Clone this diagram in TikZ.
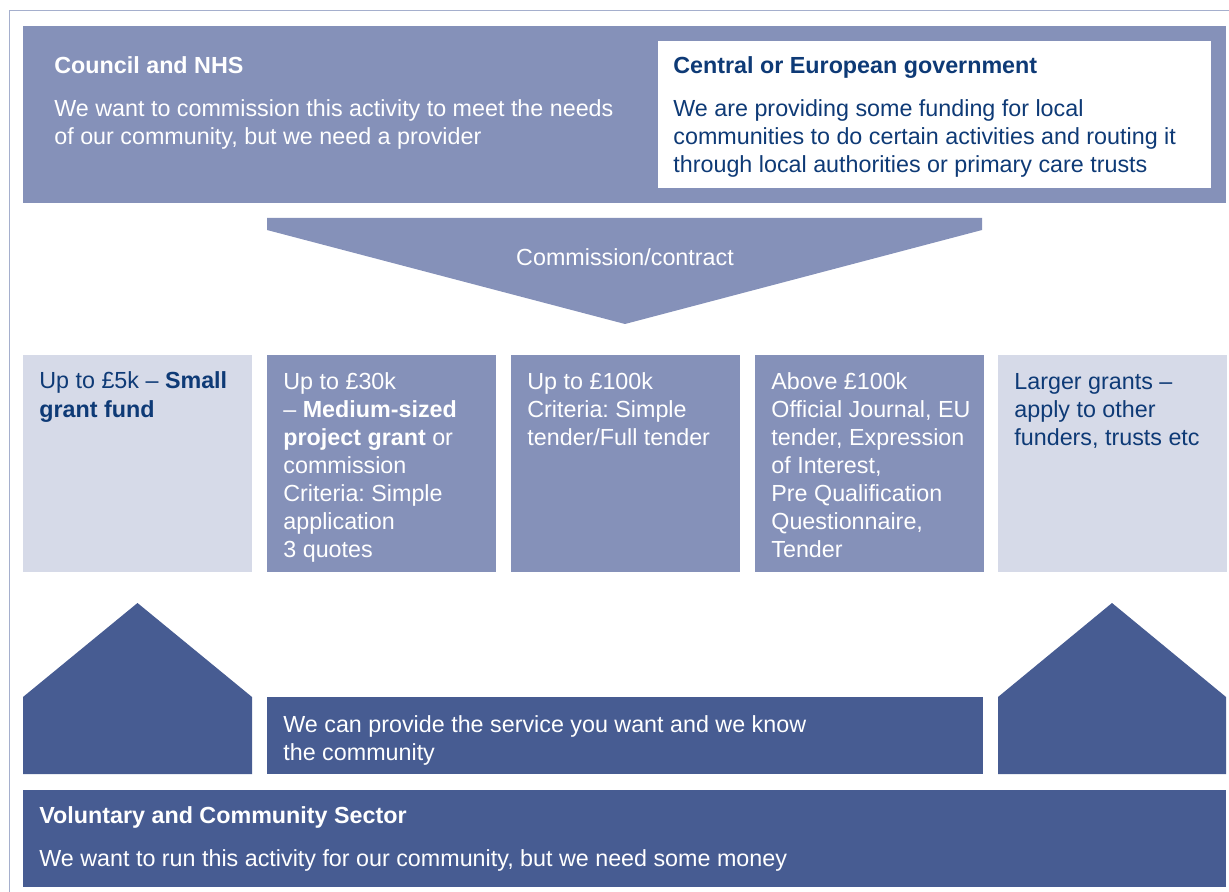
\documentclass[tikz,border=0pt]{standalone}
\usepackage{fontspec}
\setmainfont{Liberation Sans}
\frenchspacing
\usetikzlibrary{positioning}
\definecolor{vcsdark}{RGB}{71,92,146}
\definecolor{vcsmid}{RGB}{133,145,185}
\definecolor{vcslight}{RGB}{214,218,232}
\definecolor{vcsnavy}{RGB}{14,58,118}
\definecolor{vcsframe}{RGB}{165,175,205}

\begin{document}
\begin{tikzpicture}[x=0.5pt, y=-0.5pt,
  lbl/.style={anchor=base west, inner sep=0pt, align=left, font=\fontsize{11.65}{14}\selectfont},
  head/.style={lbl, font=\fontsize{11.65}{14}\selectfont\bfseries}]
\useasboundingbox (0,0) rectangle (1229,892);
% Frame, left and top edge only
\draw[vcsframe, line width=0.75pt] (9.5,892) -- (9.5,10.5) -- (1229,10.5);
% Top band: council and government
% (multi-line labels sit on the baseline of their last line)
\fill[vcsmid] (23,26) rectangle (1226,203);
\fill[white] (658,41) rectangle (1211,188);
\node[head, text=white] (council) at (54,74) {Council and NHS};
\node[lbl, text=white] (councilnote) at (54,145) {We want to commission this activity to meet the needs\\of our community, but we need a provider};
\node[head, text=vcsnavy] (central) at (673,74) {Central or European government};
\node[lbl, text=vcsnavy] (centralnote) at (673,173) {We are providing some funding for local\\communities to do certain activities and routing it\\through local authorities or primary care trusts};
% Funnel down to the tiers
\fill[vcsmid] (267,218) -- (982,218) -- (982,230) -- (625,324) -- (267,230) -- cycle;
\node[lbl, anchor=base, text=white] (commission) at (625,266) {Commission/contract};
% Five funding tiers
\foreach \x/\shade in {23/vcslight,267/vcsmid,511/vcsmid,755/vcsmid,998/vcslight}
  \fill[\shade] (\x,355) rectangle ++(228.5,217);
\node[lbl, text=vcsnavy] (tiersmall) at (39,417) {Up to £5k – \textbf{Small}\\\textbf{grant fund}};
\node[lbl, text=white] (tiermedium) at (283,557) {Up to £30k\\– \textbf{Medium-sized}\\\textbf{project grant} or\\commission\\Criteria: Simple\\application\\3 quotes};
\node[lbl, text=white] (tierlarge) at (527,445) {Up to £100k\\Criteria: Simple\\tender/Full tender};
\node[lbl, text=white] (tiereu) at (771,557) {Above £100k\\Official Journal, EU\\tender, Expression\\of Interest,\\Pre Qualification\\Questionnaire,\\Tender};
\node[lbl, text=vcsnavy] (tierother) at (1014,445) {Larger grants –\\apply to other\\funders, trusts etc};
% Houses and provider bar
\fill[vcsdark] (23,774) -- (23,697) -- (137.5,603) -- (252,697) -- (252,774) -- cycle;
\fill[vcsdark] (998,774) -- (998,697) -- (1112,603) -- (1226,697) -- (1226,774) -- cycle;
\fill[vcsdark] (267,697) rectangle (983,774);
\node[lbl, text=white] (provide) at (283,760) {We can provide the service you want and we know\\the community};
% Sector band at the bottom
\fill[vcsdark] (23,790) rectangle (1226,887);
\node[head, text=white] (sector) at (39,823) {Voluntary and Community Sector};
\node[lbl, text=white] (sectornote) at (39,866) {We want to run this activity for our community, but we need some money};
\end{tikzpicture}
\end{document}
